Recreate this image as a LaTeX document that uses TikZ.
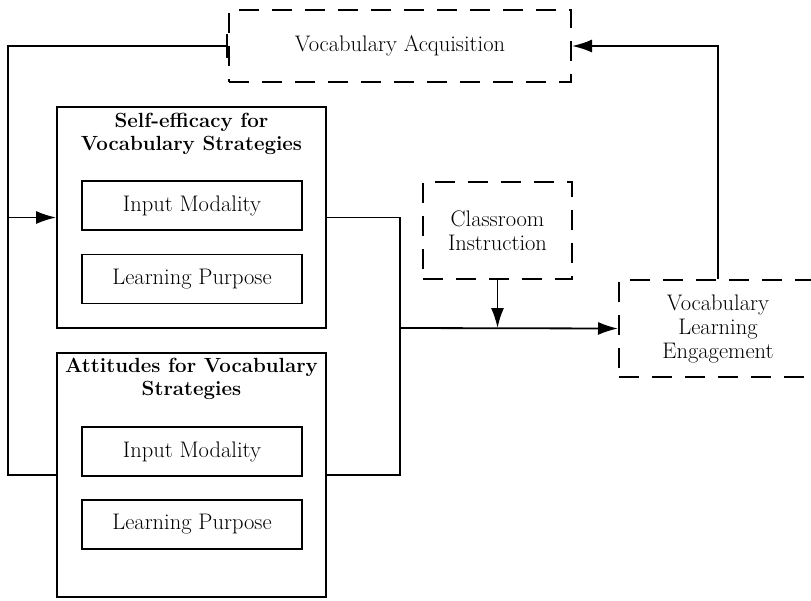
\documentclass[tikz,border=0pt]{standalone}
\usepackage{fontspec}
\usetikzlibrary{arrows.meta}
\begin{document}
\begin{tikzpicture}[x=1pt,y=-1pt,
  every node/.style={font=\fontsize{22.5}{24}\selectfont, align=center, inner sep=0pt},
  titletext/.style={font=\fontsize{20.5}{23}\selectfont\bfseries},
  solidbox/.style={draw, line width=1.8pt},
  dashbox/.style={draw, line width=2pt, dash pattern=on 20pt off 13pt},
  plain/.style={line width=1.8pt},
  link/.style={plain, -{Latex[length=20pt,width=13pt]}}]
\useasboundingbox (0,0) rectangle (811,600);
\clip (0,0) rectangle (811,600);

% outcome and context boxes
\node[dashbox, minimum width=342pt, minimum height=72pt] (acq) at (400,46) {Vocabulary Acquisition};
\node[dashbox, minimum width=149pt, minimum height=97pt] (class) at (497.5,230.5) {Classroom\\Instruction};
\node[dashbox, minimum width=198pt, minimum height=97pt] (engage) at (718,328.5) {Vocabulary\\Learning\\Engagement};

% self-efficacy group
\node[solidbox, minimum width=269pt, minimum height=221pt] (self) at (191.5,217.5) {};
\node[titletext] (selftitle) at (191.5,134) {Self-efficacy for\\Vocabulary Strategies};
\node[solidbox, minimum width=220pt, minimum height=49pt] (selfin) at (192,205.5) {Input Modality};
\node[solidbox, minimum width=220pt, minimum height=49pt] (selfpur) at (192,279) {Learning Purpose};

% attitudes group
\node[solidbox, minimum width=269pt, minimum height=244pt] (att) at (191.5,475) {};
\node[titletext] (atttitle) at (191.5,379) {Attitudes for Vocabulary\\Strategies};
\node[solidbox, minimum width=220pt, minimum height=49pt] (attin) at (192,451.5) {Input Modality};
\node[solidbox, minimum width=220pt, minimum height=49pt] (attpur) at (192,524.5) {Learning Purpose};

\coordinate (left) at (8,0);
\coordinate (join) at (400,328);

% feedback loop
\draw[link, {Bar[width=24pt]}-] (acq.west) -- (acq.west -| left) |- (att.west);
\draw[link] (self.west -| left) -- (self.west);
\draw[link] (engage.north) |- (acq.east);

% into engagement
\draw[plain] (self.east) -| (join);
\draw[plain] (att.east) -| (join);
\draw[link] (join) -- (engage.west);
\draw[link] (class.south) -- (class.south |- join);
\end{tikzpicture}
\end{document}
